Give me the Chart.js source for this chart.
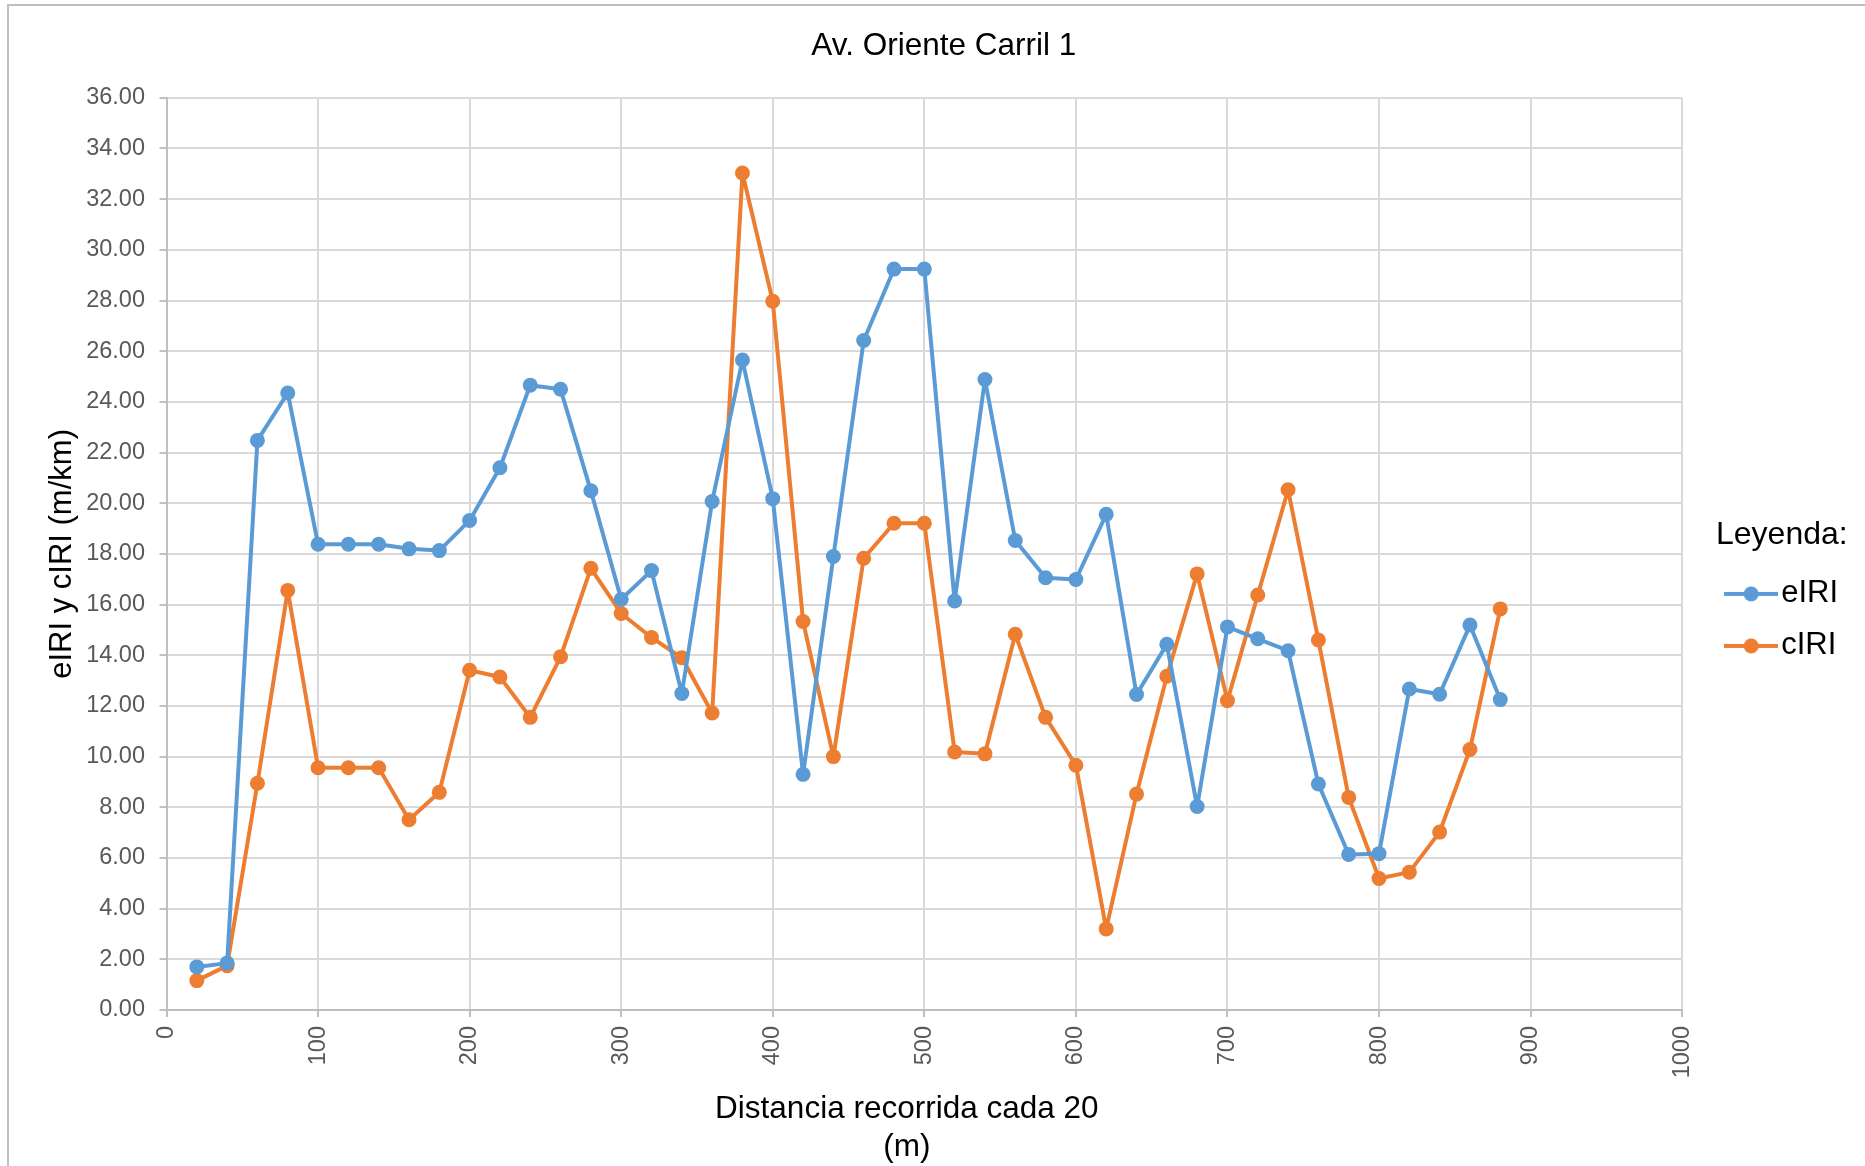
<!DOCTYPE html>
<html>
<head>
<meta charset="utf-8">
<script src="https://cdn.jsdelivr.net/npm/chart.js@4.4.1/dist/chart.umd.min.js"></script>
<style>
  body { margin: 0; background: #fff; }
  #wrap { position: relative; width: 1865px; height: 1166px; overflow: hidden; }
  #frame { position: absolute; left: 7px; top: 4px; width: 2000px; height: 2000px; border: 2px solid #bfbfbf; }
  canvas { position: absolute; left: 0; top: 0; }
</style>
</head>
<body>
<div id="wrap">
  <div id="frame"></div>
  <canvas id="iri-chart" width="1865" height="1166"></canvas>
</div>
<script>
const distancia = [20, 40, 60, 80, 100, 120, 140, 160, 180, 200, 220, 240, 260, 280, 300, 320, 340, 360, 380, 400, 420, 440,
  460, 480, 500, 520, 540, 560, 580, 600, 620, 640, 660, 680, 700, 720, 740, 760, 780, 800, 820, 840, 860, 880];
const eIRI = [1.70, 1.85, 22.48, 24.35, 18.38, 18.38, 18.38, 18.20, 18.13, 19.32, 21.40, 24.66, 24.50, 20.49, 16.21, 17.34, 12.49, 20.07, 25.65, 20.18, 9.30, 17.90,
  26.42, 29.24, 29.24, 16.14, 24.88, 18.53, 17.06, 16.99, 19.56, 12.45, 14.43, 8.03, 15.12, 14.65, 14.18, 8.92, 6.14, 6.17, 12.67, 12.46, 15.19, 12.25];
const cIRI = [1.16, 1.75, 8.95, 16.56, 9.56, 9.56, 9.56, 7.51, 8.59, 13.41, 13.14, 11.55, 13.94, 17.43, 15.65, 14.70, 13.90, 11.72, 33.03, 27.97, 15.33, 10.00,
  17.83, 19.21, 19.21, 10.18, 10.11, 14.83, 11.55, 9.66, 3.20, 8.52, 13.17, 17.21, 12.21, 16.38, 20.53, 14.60, 8.39, 5.19, 5.44, 7.02, 10.28, 15.83];

const azul = '#5B9BD5';
const naranja = '#ED7D31';
const fuente = "'Liberation Sans', Arial, sans-serif";

// small line + dot used as legend marker
function marcador(color) {
  const c = document.createElement('canvas');
  c.width = 54; c.height = 18;
  const g = c.getContext('2d');
  g.strokeStyle = color; g.lineWidth = 4;
  g.beginPath(); g.moveTo(0, 9); g.lineTo(54, 9); g.stroke();
  g.fillStyle = color;
  g.beginPath(); g.arc(27, 9, 7.5, 0, Math.PI * 2); g.fill();
  return c;
}

const puntos = (ys) => distancia.map((x, i) => ({x: x, y: ys[i]}));

new Chart(document.getElementById('iri-chart'), {
  type: 'line',
  data: {
    datasets: [
      {
        label: 'eIRI',
        data: puntos(eIRI),
        borderColor: azul,
        backgroundColor: azul,
        borderWidth: 4,
        borderJoinStyle: 'round',
        pointRadius: 7.5,
        pointHoverRadius: 7.5,
        pointBorderWidth: 0,
        tension: 0
      },
      {
        label: 'cIRI',
        data: puntos(cIRI),
        borderColor: naranja,
        backgroundColor: naranja,
        borderWidth: 4,
        borderJoinStyle: 'round',
        pointRadius: 7.5,
        pointHoverRadius: 7.5,
        pointBorderWidth: 0,
        tension: 0
      }
    ]
  },
  options: {
    responsive: false,
    animation: false,
    layout: { padding: { left: 39.5, right: 17, top: 0, bottom: 0 } },
    scales: {
      x: {
        type: 'linear',
        min: 0,
        max: 1000,
        grid: { color: '#d9d9d9', lineWidth: 2, tickLength: 7, tickColor: '#bfbfbf' },
        border: { color: '#bfbfbf', width: 2 },
        ticks: {
          stepSize: 100,
          autoSkip: false,
          maxRotation: 90,
          minRotation: 90,
          padding: 9,
          color: '#595959',
          font: { family: fuente, size: 23.5 },
          callback: (v) => String(v)
        },
        title: {
          display: true,
          text: ['Distancia recorrida cada 20    ', '(m)    '],
          color: '#000',
          padding: { top: 4, bottom: 0 },
          font: { family: fuente, size: 31.5 }
        },
        afterFit: (s) => { s.height = 156; }
      },
      y: {
        min: 0,
        max: 36,
        grid: { color: '#d9d9d9', lineWidth: 2, tickLength: 7, tickColor: '#bfbfbf' },
        border: { color: '#bfbfbf', width: 2 },
        ticks: {
          stepSize: 2,
          padding: 14.5,
          color: '#595959',
          font: { family: fuente, size: 23.5 },
          callback: (v) => v.toFixed(2)
        },
        title: {
          display: true,
          text: 'eIRI y cIRI (m/km)',
          color: '#000',
          font: { family: fuente, size: 31 }
        },
        afterFit: (s) => { s.width = 127; }
      },
      // empty axis that only keeps a gap between the plot and the legend
      hueco: {
        type: 'linear',
        position: 'right',
        grid: { display: false, drawTicks: false },
        border: { display: false },
        ticks: { display: false },
        afterFit: (s) => { s.width = 33.5; }
      }
    },
    plugins: {
      title: {
        display: true,
        text: 'Av. Oriente Carril 1',
        color: '#000',
        padding: { top: 27, bottom: 33 },
        font: { family: fuente, size: 31.5, weight: 'normal' }
      },
      legend: {
        position: 'right',
        align: 'start',
        title: {
          display: true,
          text: 'Leyenda:',
          color: '#000',
          padding: { top: 519, bottom: 0 },
          font: { family: fuente, size: 32 }
        },
        labels: {
          usePointStyle: true,
          pointStyleWidth: 29,
          padding: 21,
          color: '#000',
          font: { family: fuente, size: 31 },
          generateLabels: (chart) => {
            const items = Chart.defaults.plugins.legend.labels.generateLabels(chart);
            items.forEach((it, i) => { it.pointStyle = marcador(i === 0 ? azul : naranja); });
            return items;
          }
        }
      },
      tooltip: { enabled: false }
    }
  }
});
</script>
</body>
</html>
